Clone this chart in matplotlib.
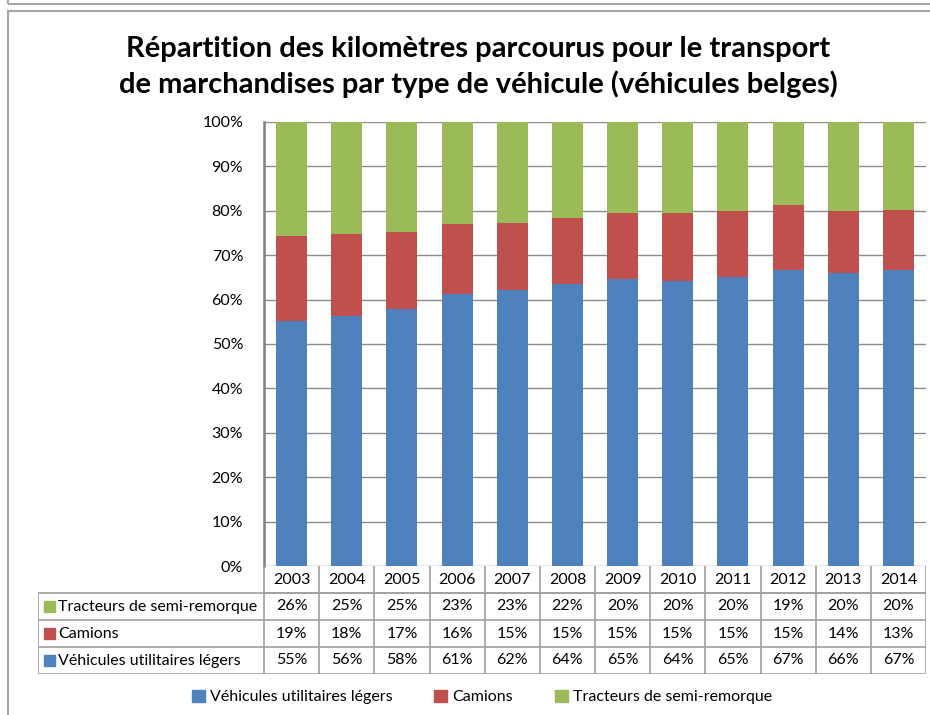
import matplotlib.pyplot as plt
from matplotlib.patches import Rectangle
import numpy as np

plt.rcParams['font.family'] = ['Lato', 'DejaVu Sans']

# Data (percent of km travelled, Belgian vehicles)
years = ['2003', '2004', '2005', '2006', '2007', '2008', '2009', '2010',
         '2011', '2012', '2013', '2014']
vul = [55.1, 56.3, 57.8, 61.3, 62.2, 63.6, 64.7, 64.3, 65.2, 66.6, 66.1, 66.7]
camions = [19.3, 18.4, 17.4, 15.8, 15.0, 14.7, 14.9, 15.3, 14.8, 14.6, 13.9, 13.4]
tracteurs = [25.6, 25.3, 24.8, 22.9, 22.8, 21.7, 20.4, 20.4, 20.0, 18.8, 20.0, 19.9]
series = ['Véhicules utilitaires légers', 'Camions', 'Tracteurs de semi-remorque']
colors = ['#4F81BD', '#C0504D', '#9BBB59']

W, H = 930, 715
fig = plt.figure(figsize=(W / 100, H / 100), dpi=100)

def fig_rect(x0, y0, x1, y1):
    # pixel box (top-left origin) -> figure fraction
    return [x0 / W, 1 - y1 / H, (x1 - x0) / W, (y1 - y0) / H]

# outer frames (bottom of the previous chart box, then this chart's box)
fig.patches.append(Rectangle((8 / W, 1 - 4 / H), 1, 1, transform=fig.transFigure,
                             fill=False, ec='#A6A6A6', lw=1.5))
fig.patches.append(Rectangle((8 / W, -0.1), 1, 1 - 11 / H + 0.1, transform=fig.transFigure,
                             fill=False, ec='#A6A6A6', lw=1.5))

fig.text(478 / W, 1 - 67 / H,
         'Répartition des kilomètres parcourus pour le transport\n'
         'de marchandises par type de véhicule (véhicules belges)',
         ha='center', va='center', fontsize=21, fontweight='bold', linespacing=1.35)

fs = 11.5

# bar chart
ax = fig.add_axes(fig_rect(264, 122, 926, 566))
x = np.arange(len(years))
bottom = np.zeros(len(years))
for vals, c in zip([vul, camions, tracteurs], colors):
    ax.bar(x, vals, 0.56, bottom=bottom, color=c, zorder=3)
    bottom += np.array(vals)
ax.set_xlim(-0.5, len(years) - 0.5)
ax.set_ylim(0, 100)
ax.set_yticks(range(0, 101, 10))
ax.set_yticklabels([f'{v}%' for v in range(0, 101, 10)], fontsize=fs)
ax.set_xticks([])
ax.yaxis.grid(True, color='#8C8C8C', lw=1, zorder=0)
ax.tick_params(axis='y', length=0, pad=15)
for s in ['top', 'right', 'bottom']:
    ax.spines[s].set_visible(False)
ax.spines['left'].set_color('#808080')
ax.spines['left'].set_linewidth(1.8)

# data table below the plot
colw = (926 - 264) / len(years)
label_w = (264 - 38) / colw
tx = fig.add_axes(fig_rect(38, 566, 926, 674))
tx.set_xlim(-0.5 - label_w, len(years) - 0.5)
tx.set_ylim(4, 0)
tx.axis('off')
lc = '#A0A0A0'
# header row (years)
tx.plot([-0.5, len(years) - 0.5], [1, 1], color=lc, lw=1.2)
for i in range(len(years) + 1):
    tx.plot([i - 0.5, i - 0.5], [0, 4], color=lc, lw=1.2)
for i, y in enumerate(years):
    tx.text(i, 0.5, y, ha='center', va='center', fontsize=fs)
# series rows, top row = last series
rows = [(series[2], tracteurs, colors[2]), (series[1], camions, colors[1]),
        (series[0], vul, colors[0])]
left = -0.5 - label_w
for r, (name, vals, c) in enumerate(rows, start=1):
    tx.plot([left, len(years) - 0.5], [r + 1, r + 1], color=lc, lw=1.2)
    tx.add_patch(Rectangle((left + 0.11, r + 0.3), 0.2, 0.4, color=c))
    tx.text(left + 0.37, r + 0.5, name, ha='left', va='center', fontsize=fs)
    for i, v in enumerate(vals):
        tx.text(i, r + 0.5, f'{v:.0f}%', ha='center', va='center', fontsize=fs)
tx.plot([left, len(years) - 0.5], [1, 1], color=lc, lw=1.2)
tx.plot([left, left], [1, 4], color=lc, lw=1.2)

# legend
handles = [Rectangle((0, 0), 1, 1, color=c) for c in colors]
fig.legend(handles, series, loc='center', bbox_to_anchor=(482 / W, 1 - 697 / H),
           ncol=3, frameon=False, fontsize=fs, handlelength=0.8, handleheight=0.8,
           handletextpad=0.35, columnspacing=2.6)

fig.savefig('out.png', dpi=100)
